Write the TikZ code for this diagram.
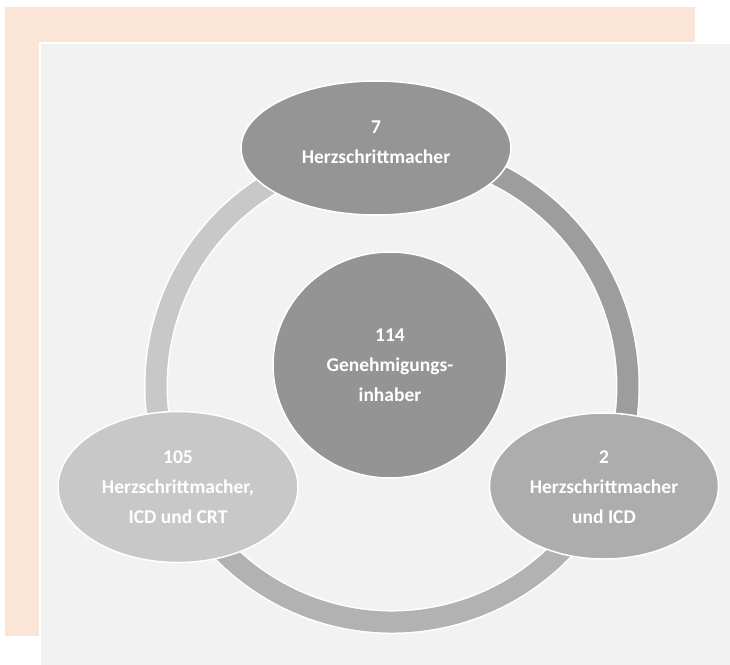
\documentclass[tikz,border=0pt]{standalone}
\usepackage{fontspec}
\setmainfont{Carlito}
\usetikzlibrary{shapes.geometric}
\definecolor{peach}{HTML}{FBE5D6}
\definecolor{panel}{HTML}{F2F2F2}
\definecolor{ringA}{HTML}{9D9D9D}
\definecolor{ringB}{HTML}{B2B2B2}
\definecolor{ringC}{HTML}{C8C8C8}
\definecolor{nodeTop}{HTML}{959595}
\definecolor{nodeMid}{HTML}{949494}
\definecolor{nodeRight}{HTML}{ADADAD}
\definecolor{nodeLeft}{HTML}{C8C8C8}
\tikzset{
  blob/.style={ellipse, draw=white, line width=1.5pt, inner sep=0pt},
  txt/.style={text=white, font=\bfseries\fontsize{19.5}{30}\selectfont, align=center, inner sep=0pt},
  ringedge/.style={draw=white, line width=24pt},
}
\begin{document}
\begin{tikzpicture}[x=1pt,y=1pt]
\useasboundingbox (0,0) rectangle (730,-664);
\fill[white] (0,0) rectangle (730,-664);
\fill[peach] (5,-7) rectangle (695,-636);
\draw[white, line width=1.5pt, fill=panel] (40,-43) rectangle (732,-666);
\coordinate (rc) at (392,-386);
% ring arcs
\draw[ringedge] (rc) ++(93.8:236) arc[start angle=93.8, end angle=-25.3, radius=236];
\draw[ringA, line width=21pt] (rc) ++(93.8:236) arc[start angle=93.8, end angle=-25.3, radius=236];
\draw[ringedge] (rc) ++(-25.3:236) arc[start angle=-25.3, end angle=-154.7, radius=236];
\draw[ringB, line width=21pt] (rc) ++(-25.3:236) arc[start angle=-25.3, end angle=-154.7, radius=236];
\draw[ringedge] (rc) ++(205.3:236) arc[start angle=205.3, end angle=93.8, radius=236];
\draw[ringC, line width=21pt] (rc) ++(205.3:236) arc[start angle=205.3, end angle=93.8, radius=236];
% nodes
\node[blob, fill=nodeTop, minimum width=270pt, minimum height=134pt] (top) at (376,-148) {};
\node[blob, fill=nodeMid, minimum width=234pt, minimum height=226pt] (mid) at (390,-365) {};
\node[blob, fill=nodeLeft, minimum width=240pt, minimum height=151pt] (left) at (178,-487) {};
\node[blob, fill=nodeRight, minimum width=229pt, minimum height=146pt] (right) at (604,-486) {};
% texts
\node[txt] (ttop) at ([yshift=6pt]top.center) {7\\Herzschrittmacher};
\node[txt] (tmid) at (mid.center) {114\\Genehmigungs-\\inhaber};
\node[txt] (tleft) at (left.center) {105\\Herzschrittmacher,\\ICD und CRT};
\node[txt] (tright) at ([yshift=-1pt]right.center) {2\\Herzschrittmacher\\und ICD};
\end{tikzpicture}
\end{document}
